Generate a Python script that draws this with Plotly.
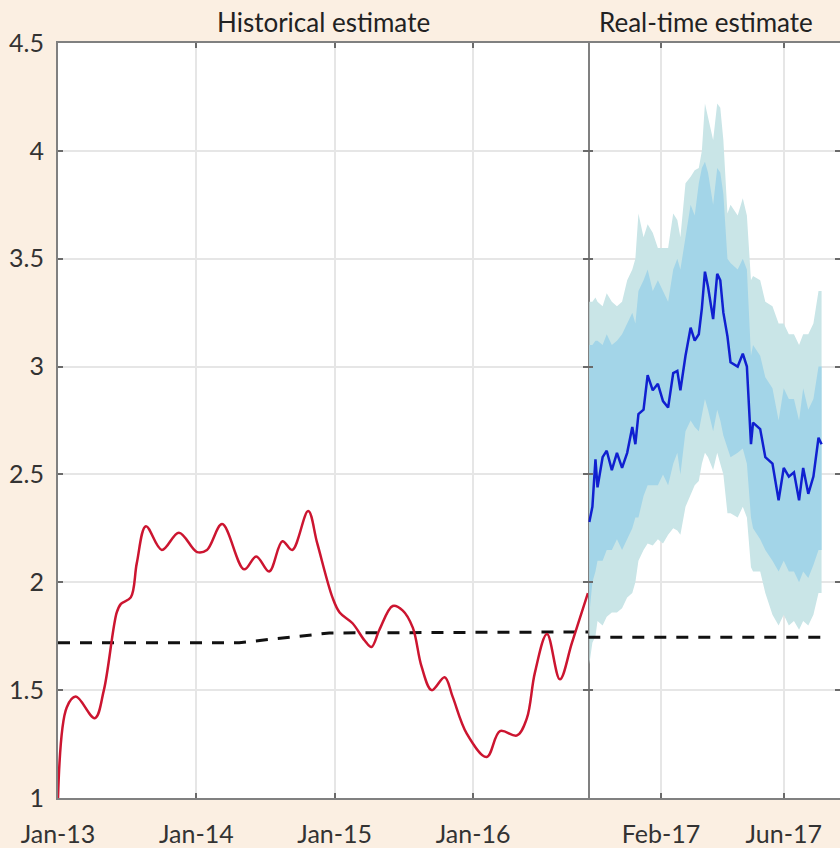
import plotly.graph_objects as go

# ---------------- Historical estimate (left panel) ----------------
hist_dates = [
    "2013-01-01", "2013-01-24", "2013-02-17", "2013-04-08", "2013-05-02", "2013-06-05",
    "2013-06-16", "2013-07-12", "2013-07-28", "2013-08-21", "2013-10-02", "2013-11-16",
    "2014-01-03", "2014-01-29", "2014-03-10", "2014-05-07", "2014-06-08", "2014-07-12",
    "2014-08-16", "2014-09-11", "2014-10-23", "2014-11-16", "2014-12-26", "2015-01-14",
    "2015-02-17", "2015-03-21", "2015-04-08", "2015-04-29", "2015-06-03", "2015-06-29",
    "2015-07-26", "2015-08-18", "2015-09-14", "2015-10-18", "2015-11-08", "2015-12-15",
    "2016-02-06", "2016-03-12", "2016-04-26", "2016-05-22", "2016-06-12", "2016-07-14",
    "2016-08-17", "2016-09-18", "2016-10-30",
]
hist_values = [
    1.00, 1.42, 1.47, 1.37, 1.50, 1.86,
    1.90, 1.93, 2.09, 2.26, 2.15, 2.23,
    2.14, 2.15, 2.27, 2.06, 2.12, 2.05,
    2.19, 2.15, 2.33, 2.18, 1.93, 1.86,
    1.81, 1.73, 1.70, 1.78, 1.89, 1.87,
    1.79, 1.61, 1.50, 1.56, 1.47, 1.30,
    1.19, 1.31, 1.29, 1.37, 1.58, 1.76,
    1.55, 1.72, 1.95,
]

trend_hist_dates = ["2013-01-01", "2014-04-24", "2014-12-18", "2016-10-31"]
trend_hist_values = [1.72, 1.72, 1.765, 1.77]

# ---------------- Real-time estimate (right panel) ----------------
rt_dates = [
    "2016-11-23", "2016-11-26", "2016-11-29", "2016-12-01", "2016-12-06", "2016-12-10",
    "2016-12-15", "2016-12-20", "2016-12-25", "2016-12-30", "2017-01-04", "2017-01-07",
    "2017-01-10", "2017-01-15", "2017-01-19", "2017-01-24", "2017-01-29", "2017-02-03",
    "2017-02-08", "2017-02-13", "2017-02-17", "2017-02-20", "2017-02-25", "2017-03-02",
    "2017-03-06", "2017-03-10", "2017-03-13", "2017-03-16", "2017-03-19", "2017-03-24",
    "2017-03-28", "2017-03-31", "2017-04-03", "2017-04-07", "2017-04-10", "2017-04-17",
    "2017-04-22", "2017-04-26", "2017-04-30", "2017-05-02", "2017-05-09", "2017-05-14",
    "2017-05-21", "2017-05-27", "2017-06-01", "2017-06-06", "2017-06-11", "2017-06-16",
    "2017-06-20", "2017-06-25", "2017-06-30", "2017-07-05", "2017-07-08",
]
rt_values = [
    2.28, 2.35, 2.57, 2.44, 2.58, 2.61,
    2.52, 2.60, 2.53, 2.60, 2.72, 2.64,
    2.78, 2.80, 2.96, 2.89, 2.92, 2.84,
    2.81, 2.97, 2.98, 2.89, 3.05, 3.18,
    3.12, 3.15, 3.27, 3.44, 3.37, 3.22,
    3.43, 3.40, 3.25, 3.14, 3.02, 3.00,
    3.06, 3.00, 2.64, 2.74, 2.71, 2.58,
    2.55, 2.38, 2.53, 2.49, 2.51, 2.38,
    2.53, 2.41, 2.49, 2.67, 2.64,
]
inner_upper = [
    3.10, 3.10, 3.12, 3.12, 3.10, 3.15,
    3.10, 3.12, 3.15, 3.20, 3.25, 3.20,
    3.35, 3.40, 3.45, 3.35, 3.40, 3.35,
    3.30, 3.45, 3.50, 3.45, 3.60, 3.75,
    3.70, 3.85, 3.92, 3.95, 3.90, 3.75,
    3.92, 3.90, 3.80, 3.50, 3.48, 3.45,
    3.50, 3.45, 3.05, 3.10, 3.05, 2.95,
    2.90, 2.75, 2.90, 2.85, 2.85, 2.75,
    2.90, 2.80, 2.85, 3.00, 3.00,
]
inner_lower = [
    1.85, 2.00, 2.05, 2.10, 2.10, 2.15,
    2.15, 2.20, 2.15, 2.20, 2.25, 2.30,
    2.30, 2.40, 2.45, 2.45, 2.45, 2.50,
    2.45, 2.55, 2.60, 2.50, 2.70, 2.75,
    2.72, 2.70, 2.78, 2.85, 2.80, 2.70,
    2.80, 2.75, 2.68, 2.62, 2.58, 2.60,
    2.62, 2.55, 2.30, 2.25, 2.20, 2.15,
    2.10, 2.05, 2.10, 2.05, 2.05, 2.00,
    2.05, 2.02, 2.08, 2.15, 2.15,
]
outer_upper = [
    3.30, 3.30, 3.32, 3.30, 3.28, 3.34,
    3.30, 3.28, 3.30, 3.40, 3.45, 3.50,
    3.71, 3.60, 3.66, 3.62, 3.55, 3.55,
    3.55, 3.71, 3.68, 3.60, 3.85, 3.88,
    3.91, 3.92, 4.00, 4.22, 4.15, 4.05,
    4.22, 4.20, 4.05, 3.71, 3.75, 3.70,
    3.78, 3.70, 3.40, 3.42, 3.40, 3.30,
    3.28, 3.20, 3.20, 3.15, 3.15, 3.10,
    3.15, 3.15, 3.20, 3.35, 3.35,
]
outer_lower = [
    1.62, 1.72, 1.75, 1.82, 1.80, 1.84,
    1.86, 1.86, 1.88, 1.93, 1.95, 2.00,
    2.10, 2.15, 2.18, 2.17, 2.20, 2.18,
    2.22, 2.25, 2.24, 2.22, 2.35, 2.41,
    2.45, 2.47, 2.55, 2.60, 2.58, 2.52,
    2.60, 2.55, 2.50, 2.32, 2.32, 2.30,
    2.35, 2.30, 2.07, 2.05, 2.05, 1.95,
    1.85, 1.80, 1.85, 1.80, 1.82, 1.78,
    1.82, 1.80, 1.85, 1.95, 1.95,
]
trend_rt_dates = ["2016-11-22", "2017-07-07"]
trend_rt_values = [1.745, 1.745]

# ---------------- axes / labels ----------------
left_tickvals = ["2013-01-01", "2014-01-01", "2015-01-01", "2016-01-01"]
left_ticktext = ["Jan-13", "Jan-14", "Jan-15", "Jan-16"]
right_tickvals = ["2017-02-01", "2017-06-01"]
right_ticktext = ["Feb-17", "Jun-17"]
y_tickvals = [1, 1.5, 2, 2.5, 3, 3.5, 4, 4.5]
y_ticktext = ["1", "1.5", "2", "2.5", "3", "3.5", "4", "4.5"]
panel_titles = ["Historical estimate", "Real-time estimate"]

FONT = "Lato"
TXT = "#333333"
AXC = "#808080"
GRID = "#e6e6e6"
PAPER = "#fbefe2"

fig = go.Figure()

# bands (right panel)
fig.add_trace(go.Scatter(x=rt_dates, y=outer_lower, xaxis="x2", yaxis="y2",
                         mode="lines", line=dict(width=0), hoverinfo="skip", showlegend=False))
fig.add_trace(go.Scatter(x=rt_dates, y=outer_upper, xaxis="x2", yaxis="y2",
                         mode="lines", line=dict(width=0), fill="tonexty",
                         fillcolor="#c9e5e7", hoverinfo="skip", showlegend=False))
fig.add_trace(go.Scatter(x=rt_dates, y=inner_lower, xaxis="x2", yaxis="y2",
                         mode="lines", line=dict(width=0), hoverinfo="skip", showlegend=False))
fig.add_trace(go.Scatter(x=rt_dates, y=inner_upper, xaxis="x2", yaxis="y2",
                         mode="lines", line=dict(width=0), fill="tonexty",
                         fillcolor="#a3d5e8", hoverinfo="skip", showlegend=False))

# trend dashed lines
fig.add_trace(go.Scatter(x=trend_hist_dates, y=trend_hist_values, xaxis="x", yaxis="y",
                         mode="lines", line=dict(color="#111111", width=3, dash="12px,10px"),
                         showlegend=False))
fig.add_trace(go.Scatter(x=trend_rt_dates, y=trend_rt_values, xaxis="x2", yaxis="y2",
                         mode="lines", line=dict(color="#111111", width=3, dash="12px,10px"),
                         showlegend=False))

# historical line
fig.add_trace(go.Scatter(x=hist_dates, y=hist_values, xaxis="x", yaxis="y",
                         mode="lines", line=dict(color="#cc1530", width=2.5, shape="spline",
                                                 smoothing=1.0),
                         showlegend=False))
# real-time line
fig.add_trace(go.Scatter(x=rt_dates, y=rt_values, xaxis="x2", yaxis="y2",
                         mode="lines", line=dict(color="#1020d0", width=2.5),
                         showlegend=False))

split = (588.3 - 58) / 782

axis_common = dict(linecolor=AXC, linewidth=2,
                   ticks="inside", ticklen=5, tickwidth=2, tickcolor="#6a6a6a",
                   showgrid=True, gridcolor=GRID, gridwidth=2, zeroline=False,
                   tickfont=dict(family=FONT, size=25, color=TXT))

fig.update_layout(
    width=840, height=848,
    margin=dict(l=58, r=0, t=43, b=50),
    paper_bgcolor=PAPER,
    plot_bgcolor="#ffffff",
    font=dict(family=FONT, size=25, color=TXT),
    xaxis=dict(domain=[0, split], type="date", range=["2013-01-01", "2016-10-31"],
               tickmode="array", tickvals=left_tickvals, ticktext=left_ticktext,
               anchor="y", ticklabelstandoff=13, showline=True, mirror="ticks",
               **axis_common),
    xaxis2=dict(domain=[split, 1], type="date", range=["2016-11-22", "2017-07-26"],
                tickmode="array", tickvals=right_tickvals, ticktext=right_ticktext,
                anchor="y2", ticklabelstandoff=13, showline=True, mirror="ticks",
                **axis_common),
    yaxis=dict(domain=[0, 1], range=[1, 4.5], tickmode="array", tickvals=y_tickvals,
               ticktext=y_ticktext, anchor="x", ticklabelstandoff=7, showline=True,
               mirror="ticks", **axis_common),
    yaxis2=dict(domain=[0, 1], range=[1, 4.5], tickmode="array", tickvals=y_tickvals,
                showticklabels=False, anchor="x2", showline=False, mirror="allticks",
                **axis_common),
    annotations=[
        dict(text=panel_titles[0], x=(323.5 - 58) / 782, y=1, xref="paper", yref="paper",
             yanchor="bottom", xanchor="center", yshift=3, showarrow=False,
             font=dict(family=FONT, size=26, color="#222222")),
        dict(text=panel_titles[1], x=(705.5 - 58) / 782, y=1, xref="paper", yref="paper",
             yanchor="bottom", xanchor="center", yshift=3, showarrow=False,
             font=dict(family=FONT, size=26, color="#222222")),
    ],
)

fig.write_html(
    "out.html",
    config={"displayModeBar": False},
    post_script=("document.body.style.margin='0px';"
                 "document.body.style.background='" + PAPER + "';"),
)
